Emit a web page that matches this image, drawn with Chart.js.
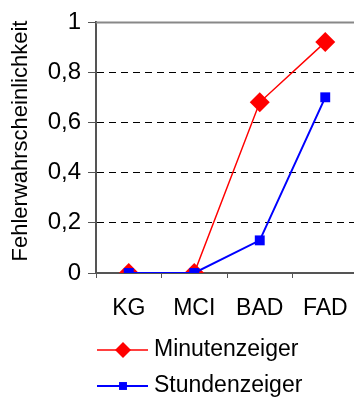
<!DOCTYPE html>
<html>
<head>
<meta charset="utf-8">
<script src="https://cdn.jsdelivr.net/npm/chart.js@4/dist/chart.umd.min.js"></script>
<style>
  html, body { margin: 0; padding: 0; overflow: hidden; background: #fff; }
  canvas { display: block; }
</style>
</head>
<body>
<canvas id="c" width="368" height="397"></canvas>
<script>
// Categories and series values
const categories = ['KG', 'MCI', 'BAD', 'FAD'];
const minutenzeiger = [0, 0, 0.68, 0.92];
const stundenzeiger = [0, 0, 0.13, 0.70];
const seriesNames = ['Minutenzeiger', 'Stundenzeiger'];
const yTicks = [0, 0.2, 0.4, 0.6, 0.8, 1];
const yTitle = 'Fehlerwahrscheinlichkeit';

const FONT = "'Liberation Sans', Arial, sans-serif";
const AXIS_GRAY = '#555555';

// Rotated y-axis title
const yTitlePlugin = {
  id: 'yTitle',
  afterDraw(chart) {
    const ctx = chart.ctx;
    ctx.save();
    ctx.translate(21, 141);
    ctx.rotate(-Math.PI / 2);
    ctx.font = '22px ' + FONT;
    ctx.fillStyle = '#000';
    ctx.textAlign = 'center';
    ctx.textBaseline = 'middle';
    ctx.fillText(yTitle, 0, 0);
    ctx.restore();
  }
};

// Solid line along the top value of the y scale
const topLinePlugin = {
  id: 'topLine',
  beforeDatasetsDraw(chart) {
    const y = chart.scales.y;
    const py = Math.round(y.getPixelForValue(yTicks[yTicks.length - 1])) + 0.5;
    const ctx = chart.ctx;
    ctx.save();
    ctx.strokeStyle = '#888888';
    ctx.lineWidth = 2;
    ctx.beginPath();
    ctx.moveTo(chart.chartArea.left, py);
    ctx.lineTo(chart.chartArea.right, py);
    ctx.stroke();
    ctx.restore();
  }
};

// Legend below the chart: line with marker, then label
const legendPlugin = {
  id: 'lineLegend',
  afterDraw(chart) {
    const ctx = chart.ctx;
    const rows = [350, 386];
    chart.data.datasets.forEach((ds, i) => {
      const y = rows[i];
      ctx.save();
      ctx.strokeStyle = ds.borderColor;
      ctx.lineWidth = ds.borderWidth;
      ctx.beginPath();
      ctx.moveTo(97, y);
      ctx.lineTo(148, y);
      ctx.stroke();
      ctx.fillStyle = ds.pointBackgroundColor;
      ctx.strokeStyle = ds.pointBorderColor;
      Chart.helpers.drawPoint(ctx, {
        pointStyle: ds.pointStyle,
        radius: ds.legendRadius,
        rotation: 0,
        borderWidth: 0
      }, 123, y);
      ctx.fillStyle = '#000';
      ctx.font = '23px ' + FONT;
      ctx.textAlign = 'left';
      ctx.textBaseline = 'middle';
      ctx.fillText(ds.label, 154, y);
      ctx.restore();
    });
  }
};

new Chart(document.getElementById('c'), {
  type: 'line',
  data: {
    labels: categories,
    datasets: [
      {
        label: seriesNames[0],
        data: minutenzeiger,
        borderColor: '#ff0000',
        backgroundColor: '#ff0000',
        borderWidth: 1.5,
        pointStyle: 'rectRot',
        pointRadius: 10,
        pointHoverRadius: 10,
        pointBackgroundColor: '#ff0000',
        pointBorderColor: '#ff0000',
        pointBorderWidth: 0,
        legendRadius: 8,
        tension: 0,
        order: 2
      },
      {
        label: seriesNames[1],
        data: stundenzeiger,
        borderColor: '#0000ff',
        backgroundColor: '#0000ff',
        borderWidth: 2,
        pointStyle: 'rect',
        pointRadius: 7,
        pointHoverRadius: 7,
        pointBackgroundColor: '#0000ff',
        pointBorderColor: '#0000ff',
        pointBorderWidth: 0,
        legendRadius: 5.6,
        tension: 0,
        order: 1
      }
    ]
  },
  options: {
    responsive: false,
    animation: false,
    devicePixelRatio: 1,
    layout: { padding: { top: 22, right: 4, left: 0, bottom: 0 } },
    plugins: {
      legend: { display: false },
      tooltip: { enabled: false },
      title: { display: false }
    },
    scales: {
      x: {
        type: 'category',
        offset: true,
        grid: {
          offset: true,
          drawOnChartArea: false,
          drawTicks: true,
          tickLength: 5,
          tickColor: AXIS_GRAY,
          tickWidth: 1
        },
        border: { display: true, color: AXIS_GRAY, width: 2 },
        ticks: {
          color: '#000',
          font: { family: FONT, size: 23 },
          padding: 17,
          maxRotation: 0,
          autoSkip: false
        },
        afterFit(scale) {
          scale.height = 124;
          scale.paddingLeft = 0;
          scale.paddingRight = 0;
        }
      },
      y: {
        min: yTicks[0],
        max: yTicks[yTicks.length - 1],
        afterBuildTicks(scale) { scale.ticks = yTicks.map(v => ({ value: v })); },
        grid: {
          drawTicks: true,
          tickLength: 8,
          tickColor: AXIS_GRAY,
          tickWidth: 1,
          tickBorderDash: [],
          lineWidth: 1,
          color(ctx) {
            const v = ctx.tick ? ctx.tick.value : null;
            return (v === yTicks[0] || v === yTicks[yTicks.length - 1]) ? 'rgba(0,0,0,0)' : '#000';
          }
        },
        border: { display: true, color: AXIS_GRAY, width: 2, dash: [7, 5] },
        ticks: {
          color: '#000',
          font: { family: FONT, size: 24 },
          padding: 7,
          callback(v) { return String(v).replace('.', ','); }
        },
        afterFit(scale) {
          scale.width = 96;
          scale.paddingTop = 0;
          scale.paddingBottom = 0;
        }
      }
    }
  },
  plugins: [topLinePlugin, yTitlePlugin, legendPlugin]
});
</script>
</body>
</html>
